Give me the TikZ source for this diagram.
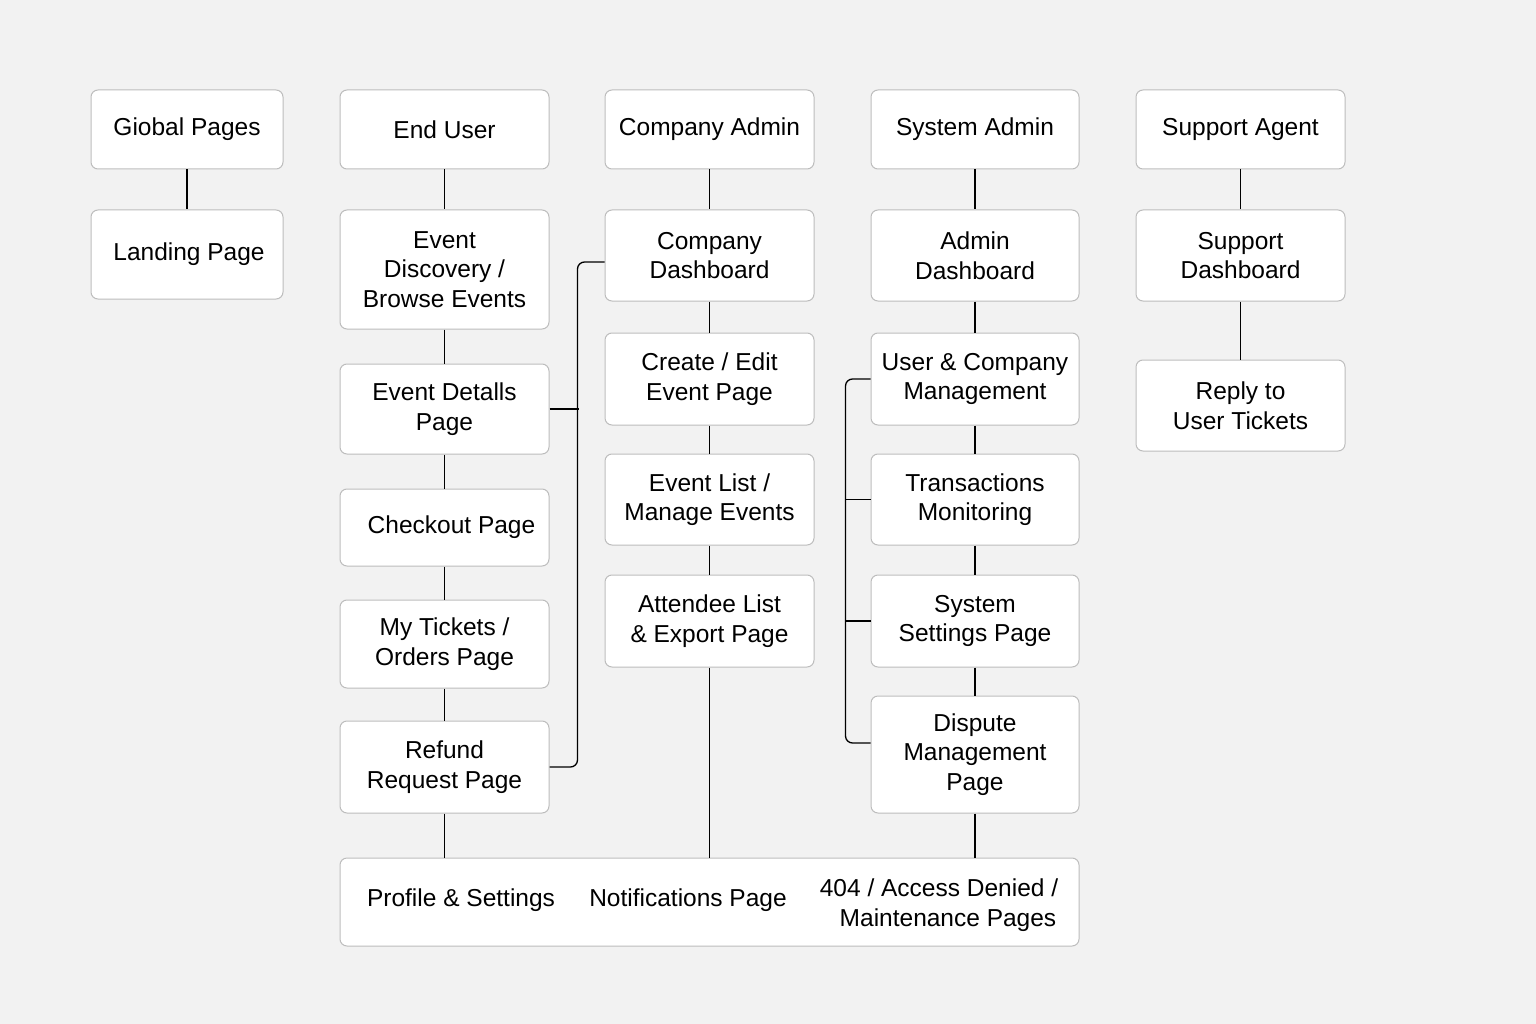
\documentclass[tikz,border=0pt]{standalone}
\usepackage{fontspec}
\setmainfont{Liberation Sans}
\definecolor{bg}{HTML}{F2F2F2}
\definecolor{edge}{HTML}{BDBDBD}
\tikzset{
  box/.style={draw=edge, line width=1pt, rounded corners=7pt, fill=white, align=center,
    font=\fontsize{24.5}{29.5}\selectfont, inner sep=0pt},
  lbl/.style={align=center, font=\fontsize{24.5}{29.5}\selectfont, inner sep=0pt},
  conn/.style={line width=1.3pt, black}
}
\begin{document}
\begin{tikzpicture}[x=1pt,y=-1pt]
\fill[bg] (0,0) rectangle (1536,1024);
\useasboundingbox (0,0) rectangle (1536,1024);
% column 1
\node[box, minimum width=192pt, minimum height=79pt] (gp) at (187,129.5) {Giobal Pages};
\node[box, minimum width=192pt, minimum height=89pt] (lp) at (187,254.5) {\hspace{4pt}Landing Page};
% column 2
\node[box, minimum width=209pt, minimum height=79pt] (eu) at (444.5,129.5) {End User};
\node[box, minimum width=209pt, minimum height=119pt] (ed) at (444.5,269.5) {Event\\Discovery /\\Browse Events};
\node[box, minimum width=209pt, minimum height=90pt] (det) at (444.5,409) {Event Detalls\\Page};
\node[box, minimum width=209pt, minimum height=77pt] (co) at (444.5,527.5) {\hspace{14pt}Checkout Page};
\node[box, minimum width=209pt, minimum height=88pt] (mt) at (444.5,644) {My Tickets /\\Orders Page};
\node[box, minimum width=209pt, minimum height=92pt] (rf) at (444.5,767) {Refund\\Request Page};
% column 3
\node[box, minimum width=209pt, minimum height=79pt] (ca) at (709.5,129.5) {Company Admin};
\node[box, minimum width=209pt, minimum height=91pt] (cd) at (709.5,255.5) {Company\\Dashboard};
\node[box, minimum width=209pt, minimum height=92pt] (ce) at (709.5,379) {Create / Edit\\Event Page};
\node[box, minimum width=209pt, minimum height=91pt] (el) at (709.5,499.5) {Event List /\\Manage Events};
\node[box, minimum width=209pt, minimum height=92pt] (al) at (709.5,621) {Attendee List\\\& Export Page};
% column 4
\node[box, minimum width=208pt, minimum height=79pt] (sa) at (975,129.5) {System Admin};
\node[box, minimum width=208pt, minimum height=91pt] (ad) at (975,255.5) {Admin\\Dashboard};
\node[box, minimum width=208pt, minimum height=92pt] (uc) at (975,379) {User \& Company\\Management};
\node[box, minimum width=208pt, minimum height=91pt] (tm) at (975,499.5) {Transactions\\Monitoring};
\node[box, minimum width=208pt, minimum height=92pt] (ss) at (975,621) {System\\Settings Page};
\node[box, minimum width=208pt, minimum height=117pt] (dm) at (975,754.5) {Dispute\\Management\\Page};
% column 5
\node[box, minimum width=209pt, minimum height=79pt] (ag) at (1240.5,129.5) {Support Agent};
\node[box, minimum width=209pt, minimum height=91pt] (sd) at (1240.5,255.5) {Support\\Dashboard};
\node[box, minimum width=209pt, minimum height=91pt] (rt) at (1240.5,405.5) {Reply to\\User Tickets};
% bottom
\node[box, minimum width=739pt, minimum height=88pt] (bt) at (709.5,902) {};
\node[lbl] (pf) at (461,900) {Profile \& Settings};
\node[lbl] (nt) at (688,900) {Notifications Page};
\node[lbl] (er) at (939,905) {404 / Access Denied /\\\hspace{18pt}Maintenance Pages};
% connectors
\draw[conn] (gp) -- (lp);
\draw[conn] (eu) -- (ed);
\draw[conn] (ed) -- (det);
\draw[conn] (det) -- (co);
\draw[conn] (co) -- (mt);
\draw[conn] (mt) -- (rf);
\draw[conn] (rf.south) -- (rf.south |- bt.north);
\draw[conn] (ca) -- (cd);
\draw[conn] (cd) -- (ce);
\draw[conn] (ce) -- (el);
\draw[conn] (el) -- (al);
\draw[conn] (al.south) -- (al.south |- bt.north);
\draw[conn] (sa) -- (ad);
\draw[conn] (ad) -- (uc);
\draw[conn] (uc) -- (tm);
\draw[conn] (tm) -- (ss);
\draw[conn] (ss) -- (dm);
\draw[conn] (dm.south) -- (dm.south |- bt.north);
\draw[conn] (ag) -- (sd);
\draw[conn] (sd) -- (rt);
% brackets
\draw[conn, rounded corners=7pt] ([yshift=-6.5pt]cd.west) -- ++(-27,0) |- (rf.east);
\draw[conn] (det.east) -- ++(29,0);
\draw[conn, rounded corners=7pt] (uc.west) -- ++(-25,0) |- ([yshift=11.5pt]dm.west);
\draw[conn] (tm.west) -- ++(-25,0);
\draw[conn] (ss.west) -- ++(-25,0);
\end{tikzpicture}
\end{document}
